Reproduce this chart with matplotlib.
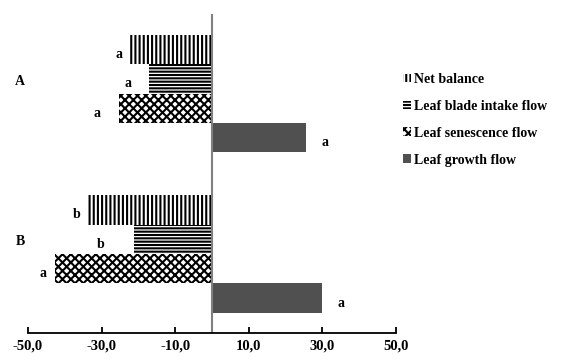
import matplotlib
matplotlib.use("Agg")
import matplotlib.pyplot as plt
from matplotlib.ticker import FuncFormatter
from matplotlib.transforms import ScaledTranslation

# values (per group A, B)
groups = ["A", "B"]
series_names = ["Net balance", "Leaf blade intake flow", "Leaf senescence flow", "Leaf growth flow"]
net_balance = [-22.6, -33.9]
blade_intake = [-17.1, -21.1]
senescence = [-25.3, -42.7]
growth = [25.5, 29.8]
net_letters = ["a", "b"]
intake_letters = ["a", "b"]
senescence_letters = ["a", "a"]
growth_letters = ["a", "a"]
x_ticks = [-50, -30, -10, 10, 30, 50]

plt.rcParams["hatch.linewidth"] = 1.5
plt.rcParams["font.family"] = ["Liberation Serif", "DejaVu Serif"]
plt.rcParams["font.weight"] = "bold"

fig = plt.figure(figsize=(5.68, 3.61), dpi=100)
ax = fig.add_axes([28 / 568, 1 - 333 / 361, 368 / 568, 319 / 361])

group_pos = [2.71, 8.16]
offsets = [-1.5, -0.5, 0.5, 1.5]
styles = [
    dict(facecolor="white", edgecolor="black", hatch="||||"),
    dict(facecolor="white", edgecolor="black", hatch="-----"),
    dict(facecolor="white", edgecolor="black", hatch="xxxx"),
    dict(facecolor="#505050", edgecolor="#505050", hatch=None),
]
all_values = [net_balance, blade_intake, senescence, growth]
all_letters = [net_letters, intake_letters, senescence_letters, growth_letters]
# pixel offsets of the significance letters from the bar ends (layout only)
letter_dx = [[-6, -7], [-18, -30], [-18, -8], [16, 16]]

handles = []
for i, (vals, name, st) in enumerate(zip(all_values, series_names, styles)):
    ys = [g + offsets[i] for g in group_pos]
    bars = ax.barh(ys, vals, height=1.0, linewidth=0, label=name, **st)
    handles.append(bars)
    for j, (v, y) in enumerate(zip(vals, ys)):
        ax.annotate(all_letters[i][j], (v, y), xytext=(letter_dx[i][j], -5),
                    textcoords="offset pixels", ha="right" if v < 0 else "left",
                    va="center", fontsize=10, fontweight="bold")

ax.axvline(0, color="#808080", linewidth=1.5)
ax.set_xlim(-50, 50)
ax.set_ylim(10.85, 0)
ax.set_xticks(x_ticks)
ax.xaxis.set_major_formatter(FuncFormatter(lambda v, p: f"{v:.1f}".replace(".", ",")))
ax.tick_params(axis="x", direction="in", length=4, width=1.3, labelsize=10.5, pad=5)
ax.set_yticks(group_pos)
ax.set_yticklabels(groups, fontsize=10, fontweight="bold")
ax.tick_params(axis="y", length=0, pad=2)
shift = ScaledTranslation(0, 14 / 100, fig.dpi_scale_trans)
for lab in ax.get_yticklabels():
    lab.set_transform(lab.get_transform() + shift)

for s in ["top", "right", "left"]:
    ax.spines[s].set_visible(False)
ax.spines["bottom"].set_linewidth(1.3)

fig.legend(handles=handles, labels=series_names, loc="upper left",
           bbox_to_anchor=(396 / 568, 1 - 66 / 361), frameon=False,
           borderpad=0, handlelength=0.55, handleheight=0.6, handletextpad=0.25,
           labelspacing=1.0, prop={"size": 10, "weight": "bold"})

fig.savefig("out.png", dpi=100)
